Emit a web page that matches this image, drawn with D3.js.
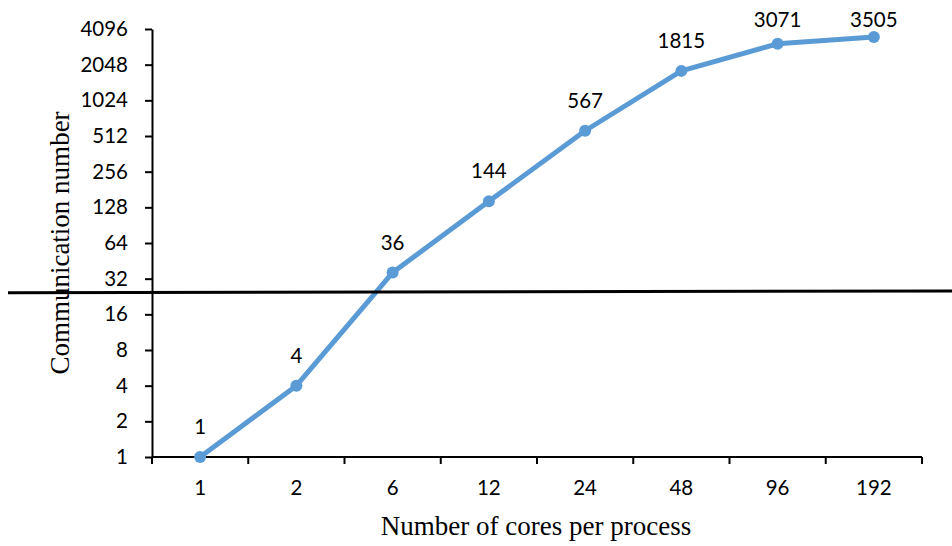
<!DOCTYPE html>
<html>
<head>
<meta charset="utf-8">
<script src="https://cdn.jsdelivr.net/npm/d3@7"></script>
<style>
  html, body { margin: 0; padding: 0; background: #fff; }
  svg { display: block; }
</style>
</head>
<body>
<svg id="chart" width="952" height="546"></svg>
<script>
// Communication count by number of cores per process
const cores = ["1", "2", "6", "12", "24", "48", "96", "192"];
const commNumbers = [1, 4, 36, 144, 567, 1815, 3071, 3505];
const yTicks = [1, 2, 4, 8, 16, 32, 64, 128, 256, 512, 1024, 2048, 4096];
// Threshold line drawn across the plot (value at left edge, value at right edge)
const thresholdValues = [24.3, 25.2];

const svg = d3.select("#chart");
const margin = { left: 152, right: 30, top: 29, bottom: 89 };
const W = 952, H = 546;

const x = d3.scaleBand().domain(cores)
  .range([margin.left, W - margin.right]).paddingInner(0).paddingOuter(0);
const y = d3.scaleLog().base(2).domain([1, 4096])
  .range([H - margin.bottom, margin.top]);

const labelFont = "Lato, 'Open Sans', sans-serif";
const labelSize = 20.5;
const titleFont = "'Liberation Serif', 'Times New Roman', serif";
const titleSize = 27;

// Y axis
const yAxis = svg.append("g")
  .attr("transform", `translate(${margin.left},0)`)
  .call(d3.axisLeft(y).tickValues(yTicks).tickFormat(d3.format("d"))
    .tickSizeInner(7).tickSizeOuter(0).tickPadding(17));
yAxis.select(".domain").attr("stroke", "#000").attr("stroke-width", 2);
yAxis.selectAll(".tick line").attr("stroke", "#000").attr("stroke-width", 2);
yAxis.selectAll(".tick text").attr("font-family", labelFont)
  .attr("font-size", labelSize).attr("fill", "#000");

// X axis: ticks sit on category boundaries, labels at category centres
const xAxisG = svg.append("g")
  .attr("transform", `translate(0,${y(1)})`);
xAxisG.append("line")
  .attr("x1", margin.left).attr("x2", W - margin.right)
  .attr("y1", 0).attr("y2", 0)
  .attr("stroke", "#000").attr("stroke-width", 2);
const boundaries = cores.map(c => x(c)).concat([x(cores[cores.length - 1]) + x.bandwidth()]);
xAxisG.selectAll("line.tick").data(boundaries).join("line")
  .attr("class", "tick")
  .attr("x1", d => d).attr("x2", d => d)
  .attr("y1", 0).attr("y2", 7)
  .attr("stroke", "#000").attr("stroke-width", 2);
xAxisG.selectAll("text").data(cores).join("text")
  .attr("x", d => x(d) + x.bandwidth() / 2)
  .attr("y", 38)
  .attr("text-anchor", "middle")
  .attr("font-family", labelFont).attr("font-size", labelSize).attr("fill", "#000")
  .text(d => d);

// Axis titles
svg.append("text")
  .attr("transform", `translate(69,${(y(1) + y(4096)) / 2}) rotate(-90)`)
  .attr("text-anchor", "middle")
  .attr("font-family", titleFont).attr("font-size", titleSize).attr("fill", "#000")
  .text("Communication number");
svg.append("text")
  .attr("x", 536)
  .attr("y", 535)
  .attr("text-anchor", "middle")
  .attr("font-family", titleFont).attr("font-size", titleSize).attr("fill", "#000")
  .text("Number of cores per process");

// Data series
const pts = cores.map((c, i) => ({ c, v: commNumbers[i] }));
const cx = d => x(d.c) + x.bandwidth() / 2;

svg.append("path").datum(pts)
  .attr("fill", "none")
  .attr("stroke", "#5B9BD5").attr("stroke-width", 5)
  .attr("stroke-linejoin", "round").attr("stroke-linecap", "round")
  .attr("d", d3.line().x(cx).y(d => y(d.v)));

svg.selectAll("circle.pt").data(pts).join("circle")
  .attr("class", "pt")
  .attr("cx", cx).attr("cy", d => y(d.v)).attr("r", 6)
  .attr("fill", "#5B9BD5");

// Value labels above each point, kept inside the top of the chart
svg.selectAll("text.val").data(pts).join("text")
  .attr("class", "val")
  .attr("x", cx).attr("y", d => Math.max(y(d.v) - 23, 27))
  .attr("text-anchor", "middle")
  .attr("font-family", labelFont).attr("font-size", labelSize).attr("fill", "#000")
  .text(d => d.v);

// Threshold line spanning the full width
svg.append("line")
  .attr("x1", 8).attr("x2", W)
  .attr("y1", y(thresholdValues[0])).attr("y2", y(thresholdValues[1]))
  .attr("stroke", "#000").attr("stroke-width", 3);
</script>
</body>
</html>
